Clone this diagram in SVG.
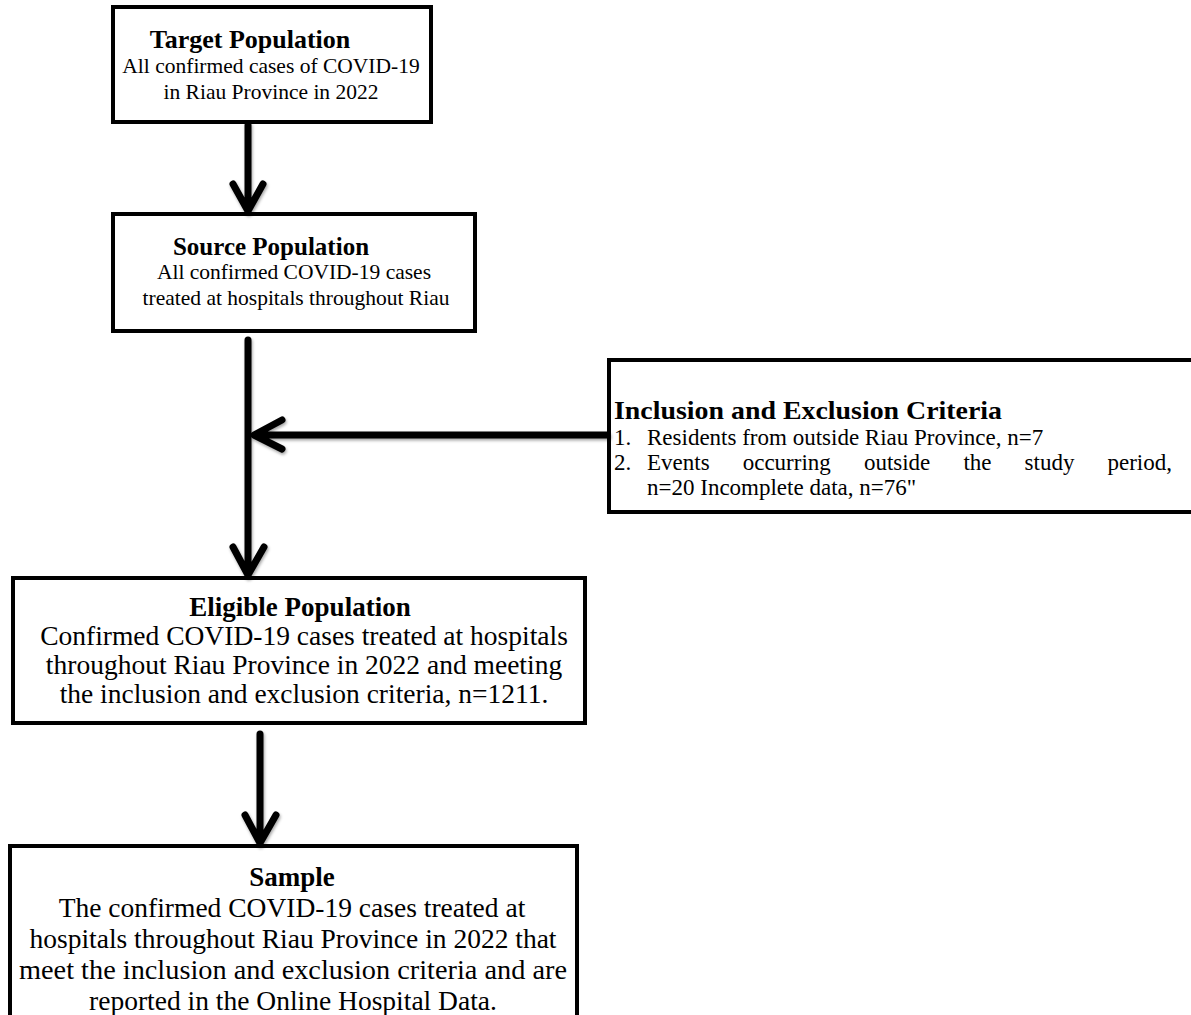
<svg xmlns="http://www.w3.org/2000/svg" width="1191" height="1015" viewBox="0 0 1191 1015">
<style>
.box{fill:#fff;stroke:#000;stroke-width:4}
.t{font-family:"Liberation Serif","Times New Roman",serif;font-size:21.5px;fill:#000}
.b{font-weight:bold}
.c{text-anchor:middle}
.m{font-size:23px}
.l{font-size:27.5px}
.ln{fill:none;stroke:#000;stroke-width:7;stroke-linecap:round;stroke-linejoin:round}
</style>
<defs>
<filter id="sh" x="-20%" y="-20%" width="140%" height="140%">
<feDropShadow dx="1" dy="2" stdDeviation="1.5" flood-color="#000" flood-opacity="0.35"/>
</filter>
</defs>
<rect width="1191" height="1015" fill="#fff"/>
<g id="target">
<rect class="box" x="113" y="7" width="318" height="115"/>
<text class="t b c" x="250" y="48" style="font-size:26px">Target Population</text>
<text class="t c" x="271" y="73">All confirmed cases of COVID-19</text>
<text class="t c" x="271" y="99">in Riau Province in 2022</text>
</g>
<g id="source">
<rect class="box" x="113" y="214" width="362" height="117"/>
<text class="t b c" x="271" y="255" style="font-size:25px">Source Population</text>
<text class="t c" x="294" y="279">All confirmed COVID-19 cases</text>
<text class="t c" x="296" y="305">treated at hospitals throughout Riau</text>
</g>
<g id="criteria">
<rect class="box" x="609" y="360" width="590" height="152"/>
<text class="t b" x="614" y="419" style="font-size:24.5px" textLength="388" lengthAdjust="spacingAndGlyphs">Inclusion and Exclusion Criteria</text>
<text class="t m" x="614" y="445">1.</text>
<text class="t m" x="647" y="445">Residents from outside Riau Province, n=7</text>
<text class="t m" x="614" y="470">2.</text>
<text class="t m" y="470"><tspan x="647">Events</tspan><tspan x="742.7">occurring</tspan><tspan x="863.9">outside</tspan><tspan x="963.4">the</tspan><tspan x="1024.6">study</tspan><tspan x="1107.5">period,</tspan></text>
<text class="t m" x="647" y="495">n=20 Incomplete data, n=76"</text>
</g>
<g id="eligible">
<rect class="box" x="13" y="578" width="572" height="145"/>
<text class="t b c" x="300" y="616" style="font-size:27px">Eligible Population</text>
<text class="t l c" x="304" y="645">Confirmed COVID-19 cases treated at hospitals</text>
<text class="t l c" x="304" y="674">throughout Riau Province in 2022 and meeting</text>
<text class="t l c" x="304" y="703">the inclusion and exclusion criteria, n=1211.</text>
</g>
<g id="sample">
<rect class="box" x="10" y="846" width="567" height="180"/>
<text class="t b c" x="292" y="886" style="font-size:27px">Sample</text>
<text class="t l c" x="292" y="917">The confirmed COVID-19 cases treated at</text>
<text class="t l c" x="293" y="948">hospitals throughout Riau Province in 2022 that</text>
<text class="t l c" x="293" y="979" textLength="548" lengthAdjust="spacingAndGlyphs">meet the inclusion and exclusion criteria and are</text>
<text class="t l c" x="293" y="1010">reported in the Online Hospital Data.</text>
</g>
<g id="connectors" filter="url(#sh)">
<path class="ln" d="M248,125 V210 M233,184 L248,211 L263,184"/>
<path class="ln" d="M248,340 V574 M233,547 L248,575 L264,547"/>
<path class="ln" d="M607,435 H256 M282,420 L254,435 L282,449"/>
<path class="ln" d="M260,734 V842 M245,815 L260,843 L276,815"/>
</g>
</svg>
